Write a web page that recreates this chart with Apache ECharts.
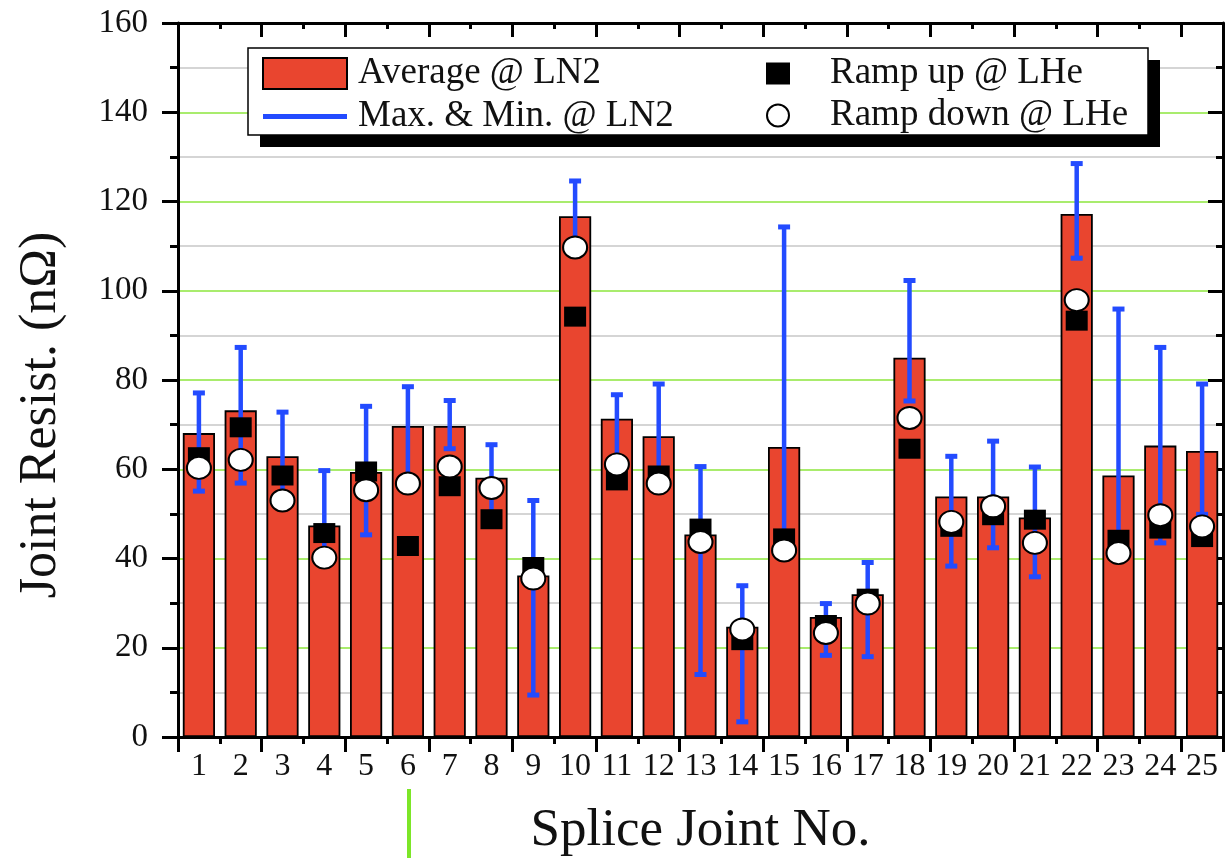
<!DOCTYPE html>
<html>
<head>
<meta charset="utf-8">
<script src="https://cdn.jsdelivr.net/npm/echarts@6/dist/echarts.min.js"></script>
<style>
html,body{margin:0;padding:0;background:#fff;}
#chart{width:1228px;height:858px;}
</style>
</head>
<body>
<div id="chart"></div>
<script>
// ---- data ----
const joints = ['1','2','3','4','5','6','7','8','9','10','11','12','13','14','15','16','17','18','19','20','21','22','23','24','25'];
const avgLN2 = [68.1, 73.2, 62.9, 47.4, 59.4, 69.7, 69.7, 58.1, 36.2, 116.7, 71.3, 67.4, 45.4, 24.7, 65.0, 26.9, 32.0, 85.0, 53.9, 53.9, 49.2, 117.2, 58.6, 65.3, 64.1];
const maxLN2 = [77.1, 87.3, 72.8, 59.7, 74.1, 78.5, 75.4, 65.5, 53.0, 124.6, 76.7, 79.1, 60.6, 33.9, 114.3, 29.9, 39.1, 102.3, 62.9, 66.3, 60.5, 128.5, 95.9, 87.3, 79.1];
const minLN2 = [55.1, 56.9, 54.0, 41.5, 45.3, 57.0, 64.6, 49.0, 9.4, 111.0, 60.0, 59.0, 14.0, 3.4, 45.0, 18.3, 18.0, 75.3, 38.3, 42.4, 35.9, 107.3, 45.0, 43.5, 49.9];
const rampUpLHe = [62.7, 69.4, 58.6, 45.7, 59.5, 42.8, 56.2, 48.8, 38.1, 94.2, 57.5, 58.6, 46.7, 21.7, 44.5, 25.1, 31.0, 64.6, 47.1, 49.7, 48.7, 93.3, 44.2, 46.7, 44.8];
const rampDownLHe = [60.3, 62.1, 53.0, 40.2, 55.3, 56.8, 60.6, 55.8, 35.5, 109.7, 61.1, 56.8, 43.7, 24.1, 41.8, 23.3, 29.9, 71.5, 48.2, 51.7, 43.5, 97.9, 41.2, 49.7, 47.2];
const yTicks = { min: 0, max: 160, step: 20 };

// ---- styles ----
const FONT = 'Liberation Serif';
const RED = '#E9452F';
const BLUE = '#234BFF';
const GREEN = '#8CE63C';
const GRAY = '#C8C8C8';
const INK = '#111';

const errData = joints.map((j, i) => [i, minLN2[i], maxLN2[i]]);

const chart = echarts.init(document.getElementById('chart'), null, { renderer: 'canvas' });

const option = {
  animation: false,
  backgroundColor: '#fff',
  textStyle: { fontFamily: FONT },
  grid: { left: 178, right: 5, top: 23, bottom: 121, containLabel: false, outerBoundsMode: 'none' },
  legend: [
    {
      data: [
        { name: 'Average @ LN2', icon: 'rect' },
        { name: 'Max. & Min. @ LN2', icon: 'path://M0,0H85V5H0Z' }
      ],
      orient: 'vertical', left: 262, top: 55, padding: 0,
      itemWidth: 84, itemHeight: 31, itemGap: 6,
      selectedMode: false, z: 20,
      textStyle: { fontFamily: FONT, fontSize: 37, color: INK, lineHeight: 31, padding: [0, 0, 0, 6] }
    },
    {
      data: [
        { name: 'Ramp up @ LHe', icon: 'rect' },
        { name: 'Ramp down @ LHe', icon: 'circle' }
      ],
      orient: 'vertical', left: 766, top: 55, padding: 0,
      itemWidth: 24, itemHeight: 22, itemGap: 5,
      selectedMode: false, z: 20,
      textStyle: { fontFamily: FONT, fontSize: 37, color: INK, lineHeight: 31, padding: [0, 0, 0, 35] }
    }
  ],
  xAxis: [
    {
      type: 'category', data: joints, position: 'bottom', boundaryGap: true,
      axisLine: { show: true, onZero: false, lineStyle: { color: '#000', width: 3 } },
      axisTick: { show: true, interval: 0, length: 7, lineStyle: { width: 3, color: '#000' } },
      axisLabel: { interval: 0, margin: 14, fontFamily: FONT, fontSize: 32, color: INK },
      splitLine: { show: false },
      name: 'Splice Joint No.', nameLocation: 'middle', nameGap: 68,
      nameTextStyle: { fontFamily: FONT, fontSize: 53, color: INK }
    },
    {
      type: 'category', data: joints, position: 'bottom', boundaryGap: true,
      axisLine: { show: false, onZero: false },
      axisTick: { show: true, interval: 1, length: 15, lineStyle: { width: 3, color: '#000' } },
      axisLabel: { show: false }, splitLine: { show: false }
    },
    {
      type: 'category', data: joints, position: 'top', boundaryGap: true,
      axisLine: { show: true, onZero: false, lineStyle: { color: '#000', width: 3 } },
      axisTick: { show: true, inside: true, interval: 0, length: 6, lineStyle: { width: 3, color: '#000' } },
      axisLabel: { show: false }, splitLine: { show: false }
    },
    {
      type: 'category', data: joints, position: 'top', boundaryGap: true,
      axisLine: { show: false, onZero: false },
      axisTick: { show: true, inside: true, interval: 1, length: 14, lineStyle: { width: 3, color: '#000' } },
      axisLabel: { show: false }, splitLine: { show: false }
    }
  ],
  yAxis: [
    {
      type: 'value', position: 'left', min: yTicks.min, max: yTicks.max, interval: yTicks.step,
      axisLine: { show: true, onZero: false, lineStyle: { color: '#000', width: 3 } },
      axisTick: { show: true, length: 16, lineStyle: { width: 3, color: '#000' } },
      minorTick: { show: true, splitNumber: 2, length: 8, lineStyle: { width: 3, color: '#000' } },
      splitLine: { show: true, lineStyle: { color: GREEN, width: 1.5 } },
      minorSplitLine: { show: true, lineStyle: { color: GRAY, width: 1.5 } },
      axisLabel: { margin: 30, fontFamily: FONT, fontSize: 33, color: INK },
      name: 'Joint Resist. (nΩ)', nameLocation: 'middle', nameGap: 111, nameRotate: 90,
      nameTextStyle: { fontFamily: FONT, fontSize: 52, color: INK, padding: [0, 70, 0, 0] }
    },
    {
      type: 'value', position: 'right', min: yTicks.min, max: yTicks.max, interval: yTicks.step,
      axisLine: { show: true, onZero: false, lineStyle: { color: '#000', width: 3 } },
      axisTick: { show: true, inside: true, length: 15, lineStyle: { width: 3, color: '#000' } },
      minorTick: { show: true, splitNumber: 2, length: 7, lineStyle: { width: 3, color: '#000' } },
      splitLine: { show: false }, minorSplitLine: { show: false },
      axisLabel: { show: false }
    }
  ],
  series: [
    {
      name: 'Average @ LN2', type: 'bar', data: avgLN2, xAxisIndex: 0, yAxisIndex: 0,
      barWidth: '77%', z: 2,
      itemStyle: { color: RED, borderColor: '#000', borderWidth: 1.8 }
    },
    {
      name: 'Max. & Min. @ LN2', type: 'custom', data: errData, xAxisIndex: 0, yAxisIndex: 0, z: 3,
      encode: { x: 0, y: [1, 2] },
      itemStyle: { color: BLUE },
      renderItem: function (params, api) {
        const x = api.value(0);
        const lo = api.coord([x, api.value(1)]);
        const hi = api.coord([x, api.value(2)]);
        const cw = 6;
        return {
          type: 'group',
          children: [
            { type: 'line', shape: { x1: lo[0], y1: lo[1], x2: hi[0], y2: hi[1] }, style: { stroke: BLUE, lineWidth: 4.5 } },
            { type: 'line', shape: { x1: lo[0] - cw, y1: lo[1], x2: lo[0] + cw, y2: lo[1] }, style: { stroke: BLUE, lineWidth: 5 } },
            { type: 'line', shape: { x1: hi[0] - cw, y1: hi[1], x2: hi[0] + cw, y2: hi[1] }, style: { stroke: BLUE, lineWidth: 5 } }
          ]
        };
      }
    },
    {
      name: 'Ramp up @ LHe', type: 'scatter', data: rampUpLHe, xAxisIndex: 0, yAxisIndex: 0, z: 4,
      symbol: 'rect', symbolSize: [22, 20],
      itemStyle: { color: '#000', opacity: 1 }
    },
    {
      name: 'Ramp down @ LHe', type: 'scatter', data: rampDownLHe, xAxisIndex: 0, yAxisIndex: 0, z: 5,
      symbol: 'circle', symbolSize: [24, 22],
      itemStyle: { color: '#fff', borderColor: '#000', borderWidth: 2, opacity: 1 }
    }
  ],
  graphic: [
    { type: 'rect', z: 10, shape: { x: 260, y: 60, width: 900, height: 87 }, style: { fill: '#000' } },
    { type: 'rect', z: 11, shape: { x: 248, y: 48, width: 900, height: 87 }, style: { fill: '#fff', stroke: '#000', lineWidth: 1.5 } },
    { type: 'line', z: 11, shape: { x1: 409, y1: 789, x2: 409, y2: 858 }, style: { stroke: '#7CE628', lineWidth: 4 } }
  ]
};

chart.setOption(option);
</script>
</body>
</html>
